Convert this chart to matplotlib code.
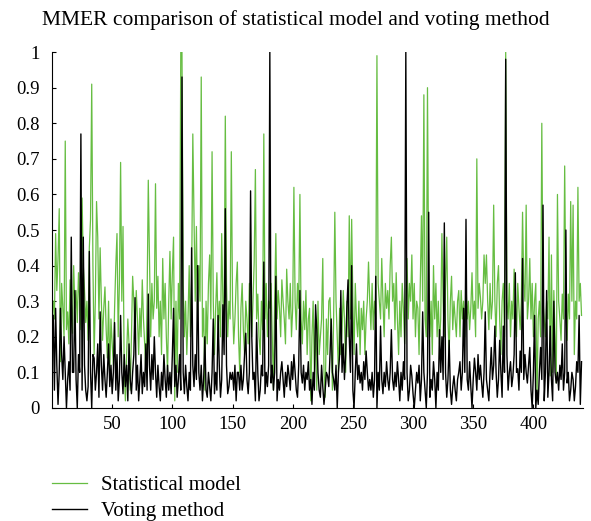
import numpy as np
import matplotlib
matplotlib.use("Agg")
import matplotlib.pyplot as plt

plt.rcParams['font.family'] = ['Liberation Serif', 'DejaVu Serif']

# MMER per test case (index 1..440)
statistical_model = [
    0.30, 0.25, 0.49, 0.33, 0.42, 0.56, 0.13, 0.35, 0.28, 0.20, 0.75, 0.22, 0.27, 0.18, 0.36, 0.30, 0.21, 0.40, 0.28, 0.33,
    0.24, 0.38, 0.30, 0.22, 0.59, 0.40, 0.33, 0.24, 0.30, 0.19, 0.45, 0.53, 0.91, 0.40, 0.15, 0.30, 0.58, 0.48, 0.25, 0.45,
    0.30, 0.19, 0.28, 0.34, 0.22, 0.14, 0.30, 0.10, 0.25, 0.18, 0.12, 0.28, 0.40, 0.49, 0.20, 0.35, 0.69, 0.30, 0.51, 0.10,
    0.02, 0.15, 0.25, 0.18, 0.05, 0.20, 0.37, 0.30, 0.20, 0.33, 0.25, 0.15, 0.28, 0.20, 0.36, 0.25, 0.18, 0.10, 0.30, 0.64,
    0.42, 0.20, 0.35, 0.25, 0.30, 0.63, 0.28, 0.37, 0.20, 0.30, 0.15, 0.42, 0.25, 0.35, 0.20, 0.10, 0.30, 0.44, 0.25, 0.38,
    0.48, 0.02, 0.30, 0.10, 0.35, 0.25, 1.00, 1.00, 0.35, 0.20, 0.30, 0.15, 0.25, 0.40, 0.20, 0.35, 0.77, 0.53, 0.30, 0.51,
    0.25, 0.40, 0.30, 0.93, 0.20, 0.28, 0.05, 0.30, 0.18, 0.35, 0.43, 0.25, 0.72, 0.30, 0.15, 0.28, 0.38, 0.22, 0.30, 0.20,
    0.49, 0.30, 0.25, 0.82, 0.35, 0.20, 0.30, 0.25, 0.72, 0.30, 0.18, 0.25, 0.35, 0.41, 0.20, 0.10, 0.28, 0.35, 0.22, 0.15,
    0.30, 0.25, 0.18, 0.35, 0.28, 0.20, 0.30, 0.41, 0.67, 0.25, 0.32, 0.20, 0.15, 0.30, 0.22, 0.77, 0.25, 0.35, 0.20, 0.30,
    0.28, 0.35, 0.20, 0.05, 0.30, 0.49, 0.25, 0.33, 0.28, 0.20, 0.36, 0.30, 0.25, 0.18, 0.39, 0.30, 0.25, 0.35, 0.20, 0.28,
    0.62, 0.30, 0.22, 0.35, 0.28, 0.60, 0.25, 0.18, 0.30, 0.22, 0.33, 0.15, 0.25, 0.28, 0.02, 0.20, 0.30, 0.10, 0.25, 0.05,
    0.30, 0.15, 0.20, 0.25, 0.42, 0.10, 0.03, 0.25, 0.15, 0.30, 0.31, 0.20, 0.05, 0.25, 0.55, 0.30, 0.20, 0.10, 0.28, 0.15,
    0.22, 0.33, 0.25, 0.10, 0.30, 0.20, 0.54, 0.25, 0.53, 0.30, 0.15, 0.35, 0.25, 0.20, 0.30, 0.15, 0.28, 0.22, 0.30, 0.15,
    0.25, 0.30, 0.41, 0.30, 0.22, 0.35, 0.22, 0.30, 0.25, 0.99, 0.35, 0.30, 0.25, 0.42, 0.30, 0.20, 0.35, 0.28, 0.33, 0.25,
    0.40, 0.48, 0.30, 0.35, 0.22, 0.38, 0.25, 0.15, 0.30, 0.20, 0.35, 0.28, 0.18, 0.30, 0.42, 0.25, 0.35, 0.30, 0.43, 0.25,
    0.35, 0.20, 0.30, 0.28, 0.15, 0.35, 0.54, 0.30, 0.88, 0.25, 0.20, 0.90, 0.35, 0.20, 0.30, 0.15, 0.40, 0.25, 0.35, 0.20,
    0.30, 0.18, 0.25, 0.49, 0.30, 0.20, 0.35, 0.48, 0.25, 0.15, 0.30, 0.37, 0.22, 0.30, 0.25, 0.20, 0.30, 0.33, 0.20, 0.33,
    0.25, 0.30, 0.20, 0.35, 0.25, 0.30, 0.22, 0.28, 0.38, 0.25, 0.30, 0.20, 0.70, 0.28, 0.35, 0.31, 0.25, 0.30, 0.43, 0.35,
    0.43, 0.30, 0.22, 0.35, 0.25, 0.30, 0.57, 0.30, 0.20, 0.35, 0.40, 0.25, 0.15, 0.30, 0.35, 0.20, 1.00, 0.30, 0.25, 0.35,
    0.20, 0.30, 0.25, 0.39, 0.30, 0.20, 0.35, 0.28, 0.22, 0.30, 0.55, 0.35, 0.30, 0.57, 0.25, 0.30, 0.42, 0.25, 0.35, 0.20,
    0.30, 0.35, 0.02, 0.25, 0.30, 0.20, 0.80, 0.30, 0.25, 0.20, 0.30, 0.25, 0.48, 0.09, 0.43, 0.10, 0.33, 0.20, 0.07, 0.60,
    0.30, 0.25, 0.19, 0.32, 0.25, 0.68, 0.30, 0.19, 0.32, 0.25, 0.58, 0.30, 0.57, 0.15, 0.30, 0.25, 0.62, 0.30, 0.35, 0.26,
]

voting_method = [
    0.26, 0.05, 0.28, 0.12, 0.01, 0.10, 0.28, 0.15, 0.08, 0.20, 0.10, 0.00, 0.08, 0.13, 0.05, 0.48, 0.10, 0.10, 0.33, 0.08,
    0.00, 0.15, 0.10, 0.77, 0.05, 0.48, 0.12, 0.05, 0.02, 0.06, 0.44, 0.10, 0.00, 0.15, 0.14, 0.05, 0.10, 0.18, 0.03, 0.27,
    0.12, 0.05, 0.15, 0.08, 0.03, 0.10, 0.18, 0.06, 0.12, 0.04, 0.10, 0.24, 0.05, 0.15, 0.02, 0.08, 0.26, 0.10, 0.04, 0.15,
    0.06, 0.12, 0.02, 0.18, 0.08, 0.04, 0.10, 0.15, 0.31, 0.05, 0.12, 0.02, 0.08, 0.15, 0.04, 0.10, 0.06, 0.18, 0.05, 0.32,
    0.12, 0.05, 0.15, 0.08, 0.20, 0.10, 0.03, 0.12, 0.06, 0.02, 0.10, 0.05, 0.15, 0.08, 0.03, 0.12, 0.05, 0.10, 0.04, 0.15,
    0.28, 0.06, 0.12, 0.03, 0.08, 0.15, 0.05, 0.93, 0.10, 0.04, 0.12, 0.06, 0.02, 0.10, 0.05, 0.45, 0.12, 0.06, 0.15, 0.08,
    0.40, 0.10, 0.05, 0.12, 0.02, 0.08, 0.20, 0.05, 0.03, 0.10, 0.06, 0.02, 0.10, 0.25, 0.04, 0.10, 0.05, 0.26, 0.12, 0.03,
    0.08, 0.29, 0.15, 0.56, 0.12, 0.04, 0.06, 0.10, 0.08, 0.10, 0.05, 0.12, 0.02, 0.10, 0.10, 0.05, 0.12, 0.05, 0.08, 0.15,
    0.21, 0.08, 0.04, 0.10, 0.61, 0.20, 0.08, 0.10, 0.02, 0.24, 0.10, 0.02, 0.05, 0.12, 0.09, 0.41, 0.04, 0.10, 0.06, 0.12,
    1.00, 0.07, 0.12, 0.05, 0.10, 0.37, 0.02, 0.08, 0.05, 0.10, 0.13, 0.08, 0.03, 0.10, 0.06, 0.12, 0.09, 0.05, 0.13, 0.08,
    0.15, 0.10, 0.05, 0.03, 0.12, 0.33, 0.10, 0.07, 0.12, 0.05, 0.10, 0.08, 0.13, 0.05, 0.08, 0.01, 0.10, 0.05, 0.29, 0.22,
    0.10, 0.05, 0.03, 0.12, 0.06, 0.01, 0.05, 0.10, 0.09, 0.06, 0.15, 0.25, 0.10, 0.08, 0.05, 0.12, 0.00, 0.10, 0.15, 0.33,
    0.10, 0.18, 0.08, 0.15, 0.28, 0.36, 0.20, 0.10, 0.40, 0.05, 0.00, 0.10, 0.18, 0.08, 0.12, 0.07, 0.10, 0.05, 0.13, 0.08,
    0.16, 0.10, 0.05, 0.08, 0.05, 0.10, 0.03, 0.08, 0.37, 0.00, 0.10, 0.05, 0.23, 0.08, 0.04, 0.10, 0.06, 0.13, 0.08, 0.05,
    0.10, 0.22, 0.08, 0.05, 0.10, 0.06, 0.13, 0.08, 0.02, 0.10, 0.05, 0.13, 0.08, 1.00, 0.10, 0.02, 0.05, 0.12, 0.09, 0.04,
    0.00, 0.05, 0.10, 0.07, 0.12, 0.02, 0.08, 0.27, 0.10, 0.05, 0.00, 0.10, 0.55, 0.03, 0.08, 0.05, 0.13, 0.08, 0.00, 0.10,
    0.05, 0.22, 0.10, 0.20, 0.08, 0.52, 0.10, 0.03, 0.08, 0.19, 0.05, 0.01, 0.06, 0.09, 0.05, 0.02, 0.08, 0.10, 0.13, 0.05,
    0.10, 0.28, 0.10, 0.53, 0.08, 0.05, 0.13, 0.06, 0.00, 0.08, 0.14, 0.10, 0.05, 0.15, 0.08, 0.12, 0.07, 0.03, 0.10, 0.27,
    0.08, 0.05, 0.02, 0.10, 0.17, 0.08, 0.12, 0.23, 0.10, 0.03, 0.08, 0.19, 0.10, 0.03, 0.23, 0.10, 0.98, 0.15, 0.05, 0.10,
    0.13, 0.06, 0.09, 0.15, 0.38, 0.10, 0.11, 0.05, 0.16, 0.10, 0.42, 0.08, 0.15, 0.10, 0.07, 0.12, 0.17, 0.05, 0.00, 0.10,
    0.26, 0.00, 0.05, 0.01, 0.10, 0.17, 0.08, 0.57, 0.02, 0.10, 0.33, 0.03, 0.10, 0.23, 0.08, 0.02, 0.30, 0.10, 0.07, 0.10,
    0.05, 0.12, 0.08, 0.18, 0.05, 0.10, 0.50, 0.07, 0.10, 0.02, 0.05, 0.10, 0.08, 0.02, 0.06, 0.13, 0.10, 0.26, 0.01, 0.13,
]

xticks = [50, 100, 150, 200, 250, 300, 350, 400]
yticks = [0, 0.1, 0.2, 0.3, 0.4, 0.5, 0.6, 0.7, 0.8, 0.9, 1]
ytick_labels = ['0', '0.1', '0.2', '0.3', '0.4', '0.5', '0.6', '0.7', '0.8', '0.9', '1']

x = np.arange(1, len(statistical_model) + 1)

fig = plt.figure(figsize=(5.91, 5.21), dpi=100)
ax = fig.add_axes([0.088, 0.217, 0.898, 0.683])

ax.plot(x, statistical_model, color='#66bd42', lw=0.9, label='Statistical model')
ax.plot(x, voting_method, color='black', lw=1.0, label='Voting method')

ax.set_xlim(0, 441)
ax.set_ylim(0, 1)
ax.set_xticks(xticks)
ax.set_yticks(yticks)
ax.set_yticklabels(ytick_labels)
ax.tick_params(direction='in', length=3, width=0.8, labelsize=13.5)
ax.tick_params(axis='y', pad=9)
ax.tick_params(axis='x', pad=6)
ax.spines['top'].set_visible(False)
ax.spines['right'].set_visible(False)

fig.text(0.5, 0.962, 'MMER comparison of statistical model and voting method',
         ha='center', va='center', fontsize=15.5)

fig.legend(loc='upper left', bbox_to_anchor=(0.088, 0.087), frameon=False,
           fontsize=15, handlelength=1.7, handletextpad=0.65,
           borderpad=0, borderaxespad=0, labelspacing=0.3)

fig.savefig('out.png', dpi=100)
